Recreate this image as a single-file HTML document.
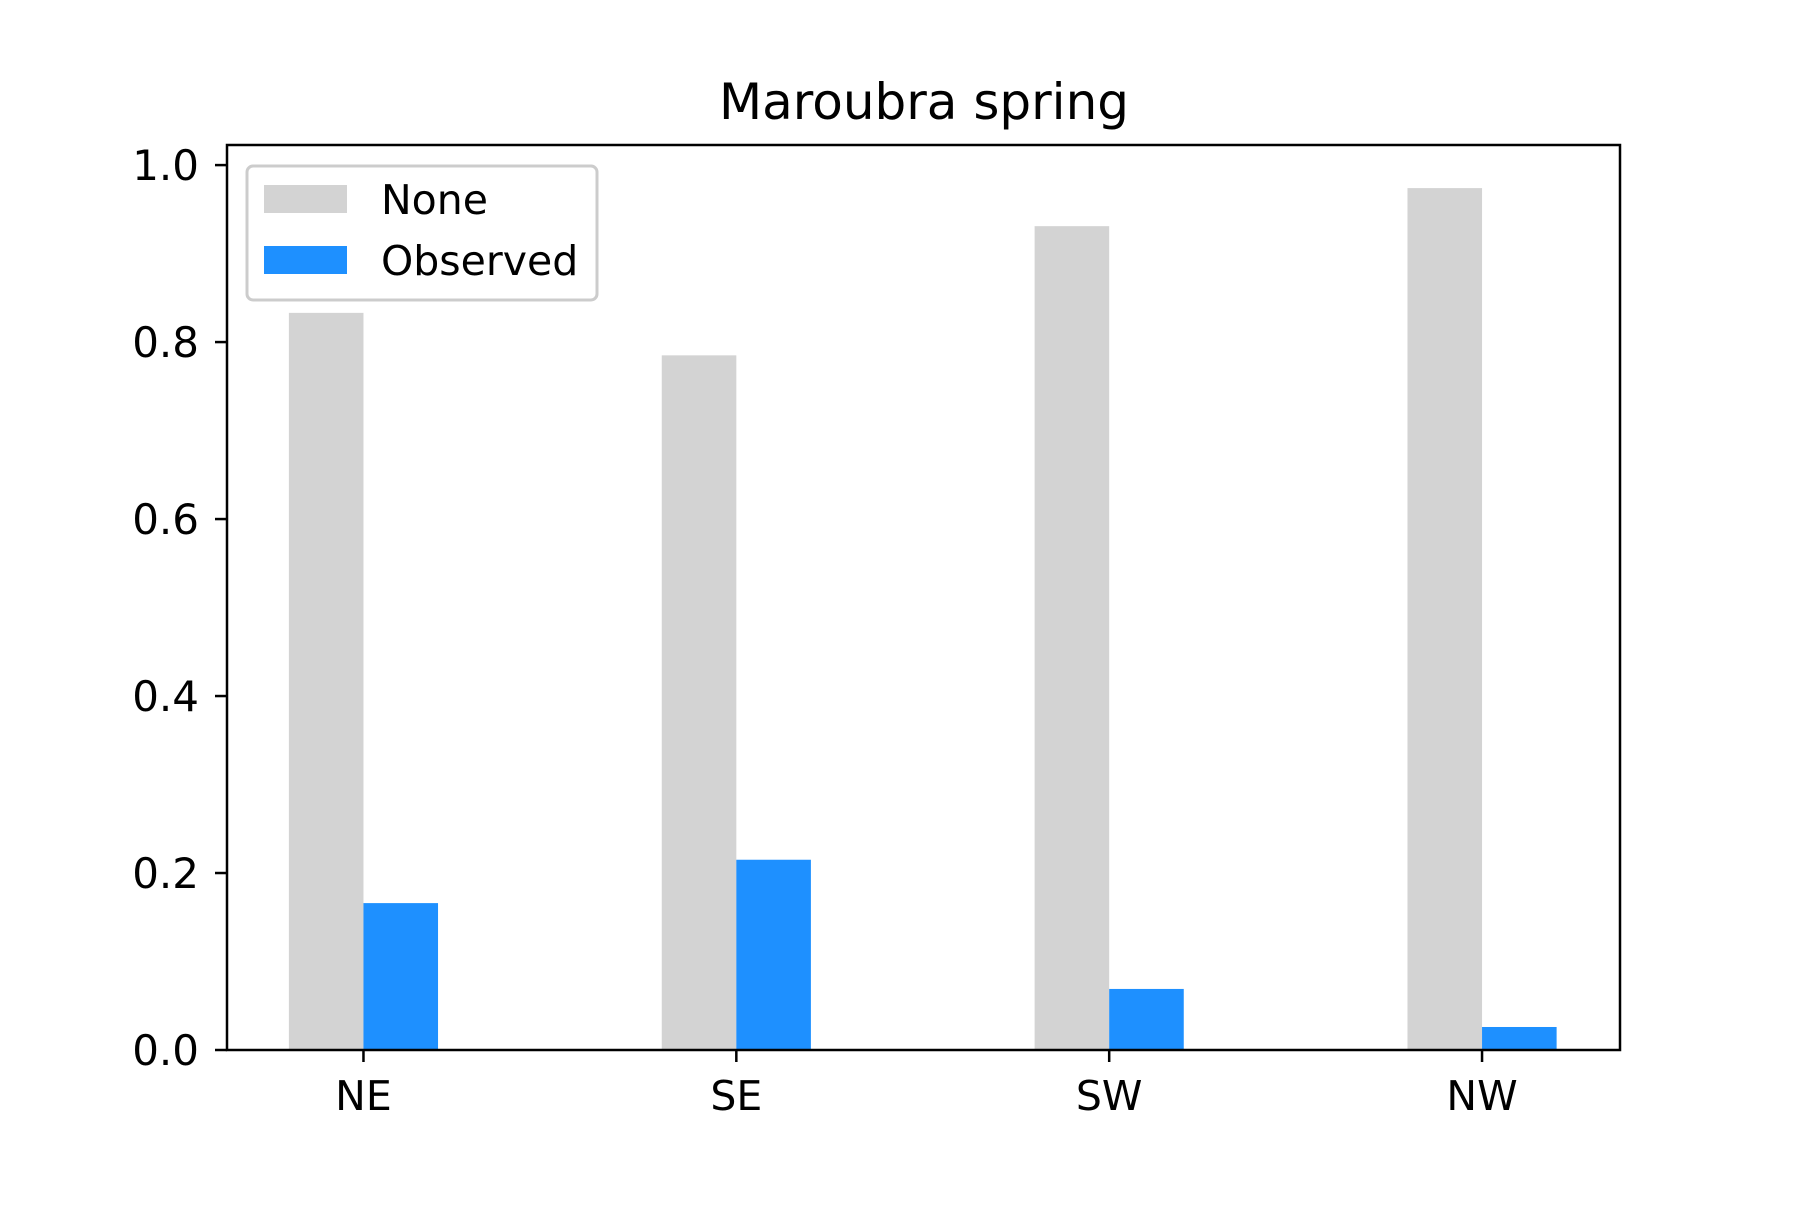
<!DOCTYPE html>
<html><head><meta charset="utf-8"><style>
body{margin:0;background:#fff}
text{font-family:"DejaVu Sans","Liberation Sans",sans-serif;fill:#000}
</style></head><body>
<svg id="chart" width="1800" height="1200" viewBox="0 0 1800 1200">
<rect width="1800" height="1200" fill="#fff"/>
<text x="924" y="119" font-size="50" text-anchor="middle">Maroubra spring</text>
<g id="bars"></g>
<g id="axes"></g>
<g id="legend">
<rect x="247" y="166" width="350" height="134" rx="6" fill="#fff" fill-opacity="0.8" stroke="#ccc" stroke-width="3"/>
<rect x="264" y="185" width="83" height="28" fill="#d3d3d3"/>
<text x="381" y="214" font-size="41">None</text>
<rect x="264" y="246" width="83" height="28" fill="#1e90ff"/>
<text x="381" y="275" font-size="41">Observed</text>
</g>
</svg>
<script>
const categories = ["NE","SE","SW","NW"];
const noneValues = [0.833,0.785,0.931,0.974];
const observedValues = [0.166,0.215,0.069,0.026];
const yTicks = [0,0.2,0.4,0.6,0.8,1.0];
const yTickLabels = ["0.0","0.2","0.4","0.6","0.8","1.0"];

const L=227,R=1620,T=145,B=1050;
const xMin=-0.366,xMax=3.37,yMax=1.0227;
const xs=v=>L+(v-xMin)/(xMax-xMin)*(R-L);
const ys=v=>B-v/yMax*(B-T);
const NS="http://www.w3.org/2000/svg";
const bars=document.getElementById('bars'), axes=document.getElementById('axes');
function mk(tag,attrs,parent){const e=document.createElementNS(NS,tag);for(const k in attrs)e.setAttribute(k,attrs[k]);parent.appendChild(e);return e;}
const w=0.2;
categories.forEach((c,i)=>{
  const r1=mk('rect',{x:xs(i-w),y:ys(noneValues[i]),width:xs(i)-xs(i-w),height:ys(0)-ys(noneValues[i]),fill:'#d3d3d3'},bars);
  
  
  const r2=mk('rect',{x:xs(i),y:ys(observedValues[i]),width:xs(i+w)-xs(i),height:ys(0)-ys(observedValues[i]),fill:'#1e90ff'},bars);
  
  
  const tk=mk('line',{x1:xs(i),x2:xs(i),y1:B,y2:B+12,stroke:'#000','stroke-width':2.5},axes);
  
  
  const t=mk('text',{x:xs(i),y:B+60,'font-size':41,'text-anchor':'middle'},axes);
  t.textContent=c;
  
  
});
yTicks.forEach((v,i)=>{
  const tk=mk('line',{x1:L-12,x2:L,y1:ys(v),y2:ys(v),stroke:'#000','stroke-width':2.5},axes);
  
  
  const t=mk('text',{x:L-28,y:ys(v)+15,'font-size':42,'text-anchor':'end'},axes);
  t.textContent=yTickLabels[i];
  
  
});
const fr=mk('rect',{x:L,y:T,width:R-L,height:B-T,fill:'none',stroke:'#000','stroke-width':2.5},axes);


</script>
</body></html>
